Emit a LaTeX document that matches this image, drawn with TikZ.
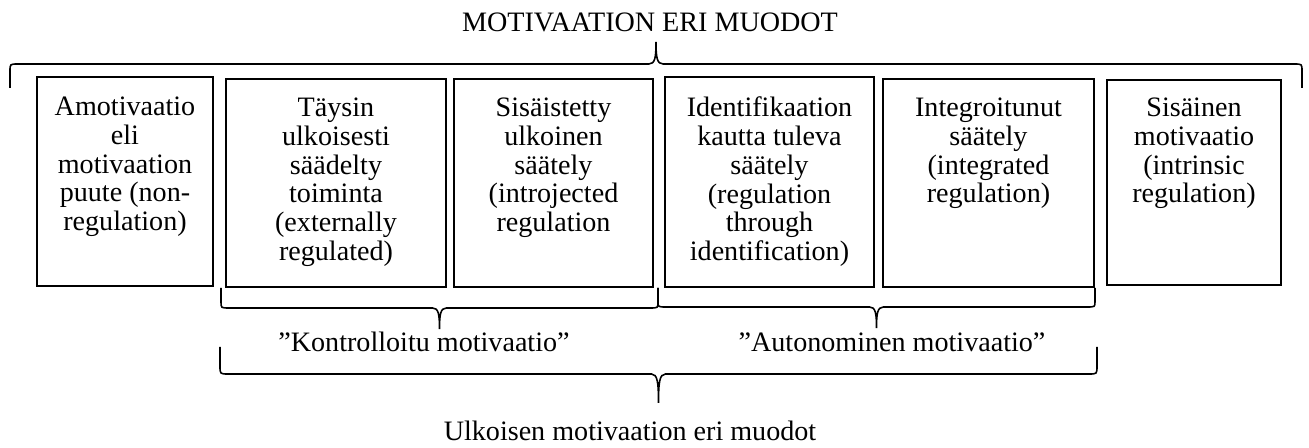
\documentclass[tikz,border=0pt]{standalone}
\usepackage{fontspec}
\setmainfont{Liberation Serif}
\usetikzlibrary{fit}

% brace as drawn in the original: #1 left x, #2 right x, #3 y of the ends, #4 y of the line, #5 y of the tip
\newcommand{\wordbrace}[5]{%
  \pgfmathsetmacro\bmid{(#1+#2)/2}%
  \pgfmathsetmacro\bend{#4+0.3*(#3-#4)}%
  \pgfmathsetmacro\btip{#4+0.3*(#5-#4)}%
  \draw[bracestyle] (#1,#3) -- (#1,\bend) .. controls (#1,#4) .. (#1+8,#4)
    -- (\bmid-7,#4) .. controls (\bmid-1,#4) and (\bmid,\btip) .. (\bmid,#5)
    .. controls (\bmid,\btip) and (\bmid+1,#4) .. (\bmid+7,#4)
    -- (#2-8,#4) .. controls (#2,#4) .. (#2,\bend) -- (#2,#3);}

\begin{document}
\begin{tikzpicture}[x=0.02cm,y=-0.02cm,
  box/.style={draw,line width=0.6pt,inner sep=0pt},
  boxtext/.style={align=center,inner sep=0pt,anchor=north,font=\fontsize{16}{16.4}\selectfont},
  lbl/.style={anchor=base,inner sep=0pt,font=\fontsize{16}{16.4}\selectfont},
  bracestyle/.style={line width=0.9pt}]
  \useasboundingbox (0,0) rectangle (1309,448);

  % title and top brace
  \node[lbl] (title) at (650,32) {MOTIVAATION ERI MUODOT};
  \wordbrace{10}{1302}{88}{64}{42}

  % the six forms
  \node[box, fit={(37,77) (213,286)}] (amot) {};
  \node[box, fit={(226,79) (446,287)}] (ulk) {};
  \node[box, fit={(454,79) (653,287)}] (sis) {};
  \node[box, fit={(665,77) (874,287)}] (ident) {};
  \node[box, fit={(883,79) (1094,287)}] (integ) {};
  \node[box, fit={(1107,80) (1281,285)}] (sisain) {};

  \node[boxtext] (amot-txt) at ([yshift=-0.40cm]amot.north)
    {Amotivaatio\\eli\\motivaation\\puute (non-\\regulation)};
  \node[boxtext] (ulk-txt) at ([yshift=-0.38cm]ulk.north)
    {Täysin\\ulkoisesti\\säädelty\\toiminta\\(externally\\regulated)};
  \node[boxtext] (sis-txt) at ([yshift=-0.38cm]sis.north)
    {Sisäistetty\\ulkoinen\\säätely\\(introjected\\regulation};
  \node[boxtext] (ident-txt) at ([yshift=-0.40cm]ident.north)
    {Identifikaation\\kautta tuleva\\säätely\\(regulation\\through\\identification)};
  \node[boxtext] (integ-txt) at ([yshift=-0.38cm]integ.north)
    {Integroitunut\\säätely\\(integrated\\regulation)};
  \node[boxtext] (sisain-txt) at ([yshift=-0.36cm]sisain.north)
    {Sisäinen\\motivaatio\\(intrinsic\\regulation)};

  % controlled / autonomous
  \wordbrace{221}{658}{288}{308}{329}
  \wordbrace{658}{1095}{288}{307}{328}
  \node[lbl] (kontr) at (424,352) {”Kontrolloitu motivaatio”};
  \node[lbl] (auton) at (892,352) {”Autonominen motivaatio”};

  % extrinsic forms
  \wordbrace{220}{1097}{347}{374}{403}
  \node[lbl] (ulkoinen) at (630,441) {Ulkoisen motivaation eri muodot};
\end{tikzpicture}
\end{document}
